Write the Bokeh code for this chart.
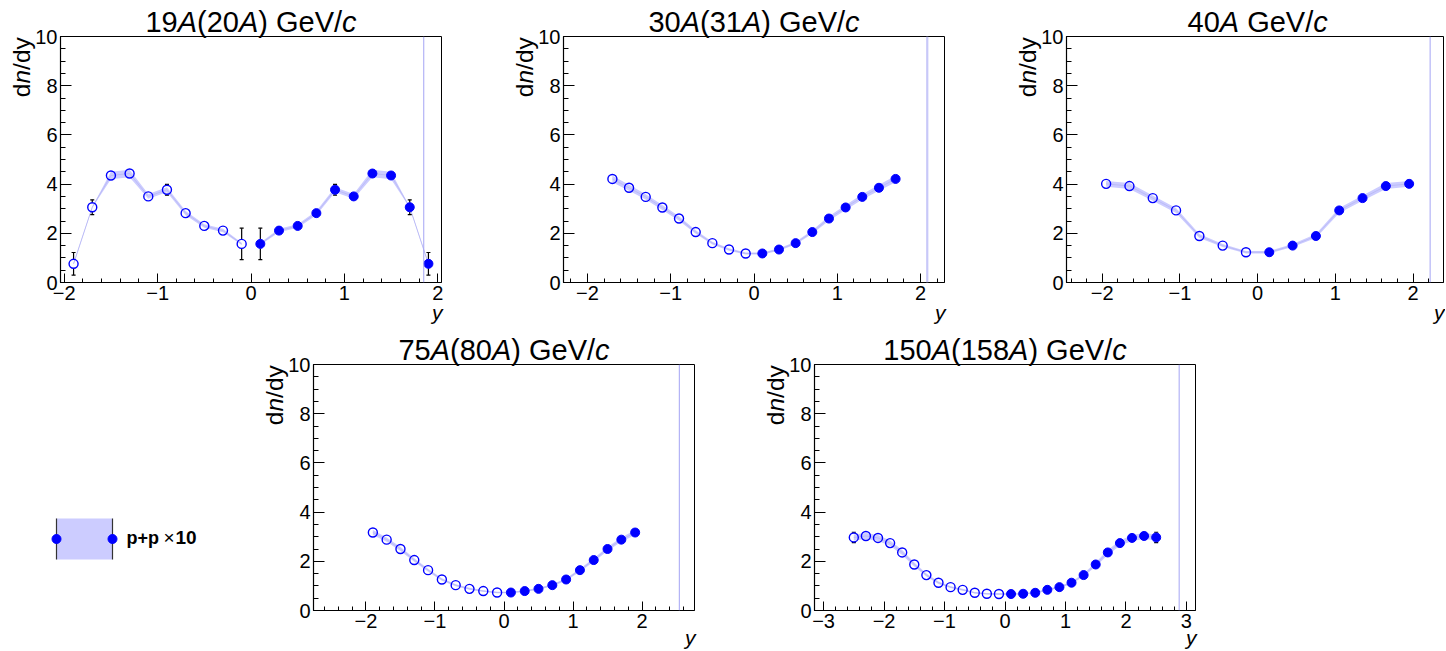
import math
from bokeh.plotting import figure
from bokeh.models import Range1d, SingleIntervalTicker, CustomJSTickFormatter, Label, Span, Spacer, GridBox
from bokeh.layouts import row, column
from bokeh.embed import file_html
from bokeh.resources import INLINE

# ---------------- data (positive-rapidity half; negative half is the reflection) ----------------
titles = ["19{A}(20{A}) GeV/{c}", "30{A}(31{A}) GeV/{c}", "40{A} GeV/{c}",
          "75{A}(80{A}) GeV/{c}", "150{A}(158{A}) GeV/{c}"]

y_19 = [0.1, 0.3, 0.5, 0.7, 0.9, 1.1, 1.3, 1.5, 1.7, 1.9]
dndy_19 = [1.57, 2.11, 2.30, 2.82, 3.77, 3.50, 4.43, 4.35, 3.06, 0.76]
stat_19 = [0.64, 0.08, 0.08, 0.08, 0.22, 0.10, 0.10, 0.10, 0.30, 0.46]
sys_19 = [0.05, 0.07, 0.07, 0.09, 0.10, 0.10, 0.15, 0.15, 0.02, 0.02]

y_30 = [0.1, 0.3, 0.5, 0.7, 0.9, 1.1, 1.3, 1.5, 1.7]
dndy_30 = [1.18, 1.34, 1.60, 2.05, 2.60, 3.05, 3.48, 3.85, 4.21]
stat_30 = [0.05, 0.05, 0.05, 0.05, 0.05, 0.05, 0.05, 0.06, 0.06]
sys_30 = [0.04, 0.05, 0.06, 0.07, 0.09, 0.10, 0.11, 0.12, 0.13]

y_40 = [0.15, 0.45, 0.75, 1.05, 1.35, 1.65, 1.95]
dndy_40 = [1.23, 1.50, 1.89, 2.93, 3.43, 3.92, 4.01]
stat_40 = [0.05, 0.05, 0.05, 0.06, 0.06, 0.06, 0.06]
sys_40 = [0.05, 0.06, 0.08, 0.10, 0.11, 0.12, 0.12]

y_75 = [0.1, 0.3, 0.5, 0.7, 0.9, 1.1, 1.3, 1.5, 1.7, 1.9]
dndy_75 = [0.73, 0.79, 0.88, 1.03, 1.26, 1.64, 2.05, 2.50, 2.88, 3.17]
stat_75 = [0.03, 0.03, 0.03, 0.03, 0.04, 0.04, 0.04, 0.05, 0.05, 0.06]
sys_75 = [0.03, 0.03, 0.04, 0.04, 0.05, 0.06, 0.07, 0.08, 0.09, 0.10]

y_150 = [0.1, 0.3, 0.5, 0.7, 0.9, 1.1, 1.3, 1.5, 1.7, 1.9, 2.1, 2.3, 2.5]
dndy_150 = [0.67, 0.68, 0.72, 0.84, 0.95, 1.13, 1.44, 1.87, 2.36, 2.74, 2.95, 3.03, 2.97]
stat_150 = [0.03, 0.03, 0.03, 0.03, 0.03, 0.04, 0.04, 0.05, 0.05, 0.06, 0.06, 0.08, 0.21]
sys_150 = [0.03, 0.03, 0.03, 0.04, 0.04, 0.05, 0.06, 0.08, 0.10, 0.11, 0.12, 0.12, 0.12]

y_beam = [1.85, 2.08, 2.22, 2.54, 2.88]

legend_parts = ["p+p", "\u00d7", "10"]

# ---------------- style / geometry ----------------
FONT = "Liberation Sans"
BLUE = "#0000ff"
BAND = "#ccccff"
BANDLINE = "#bcbcf6"
BEAM = "#a4a4f4"
FH = 246                   # frame height (px)
PAGE_W, PAGE_H = 1445, 650
R_MARK = 4.5 * 10.0 / FH   # marker radius in data units (y range 0..10)
MID = (0.905 - 0.212) / 2  # baseline -> middle of text box, in em (Liberation Sans)

# Arial / Liberation Sans advance widths (1/1000 em)
ADV = {" ": 278, "(": 333, ")": 333, "/": 278, "A": 667, "G": 778, "V": 667,
       "c": 500, "d": 556, "e": 556, "n": 556, "y": 500}
for ch in "0123456789":
    ADV[ch] = 556


def parse(markup):
    segs, cur, ital = [], "", False
    for ch in markup:
        if ch in "{}":
            if cur:
                segs.append((cur, ital))
            cur, ital = "", ch == "{"
        else:
            cur += ch
    if cur:
        segs.append((cur, ital))
    return segs


def width(s, size):
    return sum(ADV.get(c, 556) for c in s) * size / 1000.0


minus_fmt = CustomJSTickFormatter(code="return tick < 0 ? '\u2212' + Math.abs(tick) : String(tick);")


def panel(ys, vals, stat, sys, ybeam, xlim, left, frame_w, right, top, bottom,
          connect_mid=True, beam_w=1.0, beam_c=BEAM):
    W = left + frame_w + right
    H = top + FH + bottom
    p = figure(width=W, height=H, x_range=Range1d(*xlim), y_range=Range1d(0, 10),
               output_backend="svg", toolbar_location=None, tools="",
               min_border_left=left, min_border_right=right,
               min_border_top=top, min_border_bottom=bottom)
    p.grid.visible = False
    p.outline_line_color = "black"
    p.outline_line_width = 1
    p.background_fill_color = "white"
    p.border_fill_color = "white"

    xa = p.xaxis[0]
    xa.ticker = SingleIntervalTicker(interval=1, num_minor_ticks=5)
    xa.formatter = minus_fmt
    xa.major_tick_in, xa.major_tick_out = 9, 0
    xa.minor_tick_in, xa.minor_tick_out = 4, 0
    xa.major_label_standoff = 3
    ya = p.yaxis[0]
    ya.ticker = SingleIntervalTicker(interval=2, num_minor_ticks=4)
    ya.major_tick_in, ya.major_tick_out = 11, 0
    ya.minor_tick_in, ya.minor_tick_out = 5, 0
    ya.major_label_standoff = 3
    for ax in (xa, ya):
        ax.axis_line_color = "black"
        ax.axis_line_width = 1.2
        ax.major_tick_line_color = "black"
        ax.minor_tick_line_color = "black"
        ax.major_label_text_font = FONT
        ax.major_label_text_font_size = "20px"
        ax.major_label_text_color = "black"

    nx = [-v for v in ys][::-1]
    nv = vals[::-1]
    ns = stat[::-1]
    nsy = sys[::-1]

    # systematic band + connecting line
    halves = [(nx + ys, nv + vals, nsy + sys)] if connect_mid else [(nx, nv, nsy), (ys, vals, sys)]
    for hx, hv, hs in halves:
        p.varea(x=hx, y1=[a - b for a, b in zip(hv, hs)], y2=[a + b for a, b in zip(hv, hs)],
                fill_color=BAND, fill_alpha=1.0)
        p.line(hx, hv, line_color=BANDLINE, line_width=1)

    p.add_layout(Span(location=ybeam, dimension="height", line_color=beam_c, line_width=beam_w))

    # statistical error bars, drawn outside the marker (ROOT style)
    ax_ = nx + ys
    av = nv + vals
    ae = ns + stat
    ex, e0, e1, cx, cy = [], [], [], [], []
    for x, v, e in zip(ax_, av, ae):
        if e > R_MARK:
            ex += [x, x]
            e0 += [v + R_MARK, v - R_MARK]
            e1 += [v + e, v - e]
            cx += [x, x]
            cy += [v + e, v - e]
    if ex:
        p.segment(x0=ex, y0=e0, x1=ex, y1=e1, line_color="black", line_width=1.2)
        p.scatter(cx, cy, marker="dash", size=4, line_color="black", line_width=1.2)

    # markers: open for reflected, filled for measured
    p.scatter(nx, nv, marker="circle", size=9, fill_color=None, line_color=BLUE, line_width=1.4)
    p.scatter(ys, vals, marker="circle", size=9, fill_color=BLUE, line_color=BLUE)
    return p


# page geometry (px, page origin top-left)
T1, B1 = 36, 28
H1 = T1 + FH + B1                  # 310
ROW2_FRAME_TOP = 364
T2 = ROW2_FRAME_TOP - H1           # 54
B2 = PAGE_H - H1 - T2 - FH         # 40
SPACER_W = 261

specs = [
    # data, ybeam, xlim, left, frame_w, right, top, bottom, frame_left, frame_top, kwargs
    ((y_19, dndy_19, stat_19, sys_19), y_beam[0], (-2.04, 2.04), 60, 381, 70, T1, B1, 60, T1,
     dict(connect_mid=False)),
    ((y_30, dndy_30, stat_30, sys_30), y_beam[1], (-2.287, 2.287), 52, 381, 70, T1, B1, 563, T1,
     dict(beam_w=2.2, beam_c="#c8c8f8")),
    ((y_40, dndy_40, stat_40, sys_40), y_beam[2], (-2.46, 2.392), 52, 377, 2, T1, B1, 1066, T1, {}),
    ((y_75, dndy_75, stat_75, sys_75), y_beam[3], (-2.76, 2.76), 52, 381, 68, T2, B2, 313, ROW2_FRAME_TOP, {}),
    ((y_150, dndy_150, stat_150, sys_150), y_beam[4], (-3.15, 3.15), 52, 381, 30, T2, B2, 814, ROW2_FRAME_TOP, {}),
]

figs = []
for (d, yb, xl, lf, fw, rt, tp, bt, fl, ft, kw) in specs:
    figs.append(panel(*d, yb, xl, lf, fw, rt, tp, bt, **kw))

panels = column(row(figs[0], figs[1], figs[2]),
                row(Spacer(width=SPACER_W, height=T2 + FH + B2), figs[3], figs[4]))

# ---------------- overlay for all texts and the legend (page pixel coordinates) ----------------
ov = figure(width=PAGE_W, height=PAGE_H, x_range=Range1d(0, PAGE_W), y_range=Range1d(PAGE_H, 0),
            output_backend="svg", toolbar_location=None, tools="",
            x_axis_type=None, y_axis_type=None,
            min_border_left=0, min_border_right=0, min_border_top=0, min_border_bottom=0)
ov.grid.visible = False
ov.outline_line_color = None
ov.background_fill_color = None
ov.border_fill_color = None


def put(x, y, s, size, style="normal", align="left", angle=0.0):
    """(x, y) is the point on the text baseline; the label is anchored at the box middle."""
    if angle:
        x = x - MID * size
    else:
        y = y - MID * size
    ov.add_layout(Label(x=x, y=y, text=s, text_font=FONT, text_font_size=f"{size}px",
                        text_font_style=style, text_align=align, text_baseline="middle",
                        text_color="black", angle=angle))


def put_rich(x, y, markup, size, vertical=False):
    """Mixed upright/italic text; words are placed one by one (no leading spaces)."""
    pos = 0.0
    for s, it in parse(markup):
        words = s.split(" ")
        for k, wd in enumerate(words):
            if wd:
                if vertical:
                    put(x, y - pos, wd, size, "italic" if it else "normal", angle=math.pi / 2)
                else:
                    put(x + pos, y, wd, size, "italic" if it else "normal")
                pos += width(wd, size)
            if k < len(words) - 1:
                pos += width(" ", size)


for i, (d, yb, xl, lf, fw, rt, tp, bt, fl, ft, kw) in enumerate(specs):
    # title, centred on y = 0
    tsz = 29
    tot = sum(width(s, tsz) for s, _ in parse(titles[i]))
    cx = fl + (0 - xl[0]) / (xl[1] - xl[0]) * fw
    put_rich(cx - tot / 2, ft - 4, titles[i], tsz)
    # y-axis title, rotated, ending at the top of the frame
    ysz = 24.5
    tot = sum(width(s, ysz) for s, _ in parse("d{n}/dy"))
    put_rich(fl - 31, ft + 0.7 + tot, "d{n}/dy", ysz, vertical=True)
    # x-axis title
    ybase = ft + FH + (37 if ft == T1 else 34.5)
    put(fl + fw + 1, ybase, "y", 21, "italic", align="right")

# legend
bx0, bx1, by0, by1 = 56, 112, 518, 559
ov.quad(left=[bx0], right=[bx1], top=[by0], bottom=[by1], fill_color=BAND, line_color=None)
ov.segment(x0=[bx0, bx1], y0=[by0, by0], x1=[bx0, bx1], y1=[by1, by1], line_color="#333333", line_width=1.2)
ov.scatter([bx0, bx1], [(by0 + by1) / 2] * 2, marker="circle", size=9, fill_color=BLUE, line_color=BLUE)
for txt, xx, style, sz in zip(legend_parts, [126, 163, 175], ["bold", "normal", "bold"], [18, 19, 19]):
    put(xx, 544, txt, sz, style)

layout = GridBox(children=[(panels, 0, 0), (ov, 0, 0)])
open("out.html", "w").write(file_html(layout, INLINE))
